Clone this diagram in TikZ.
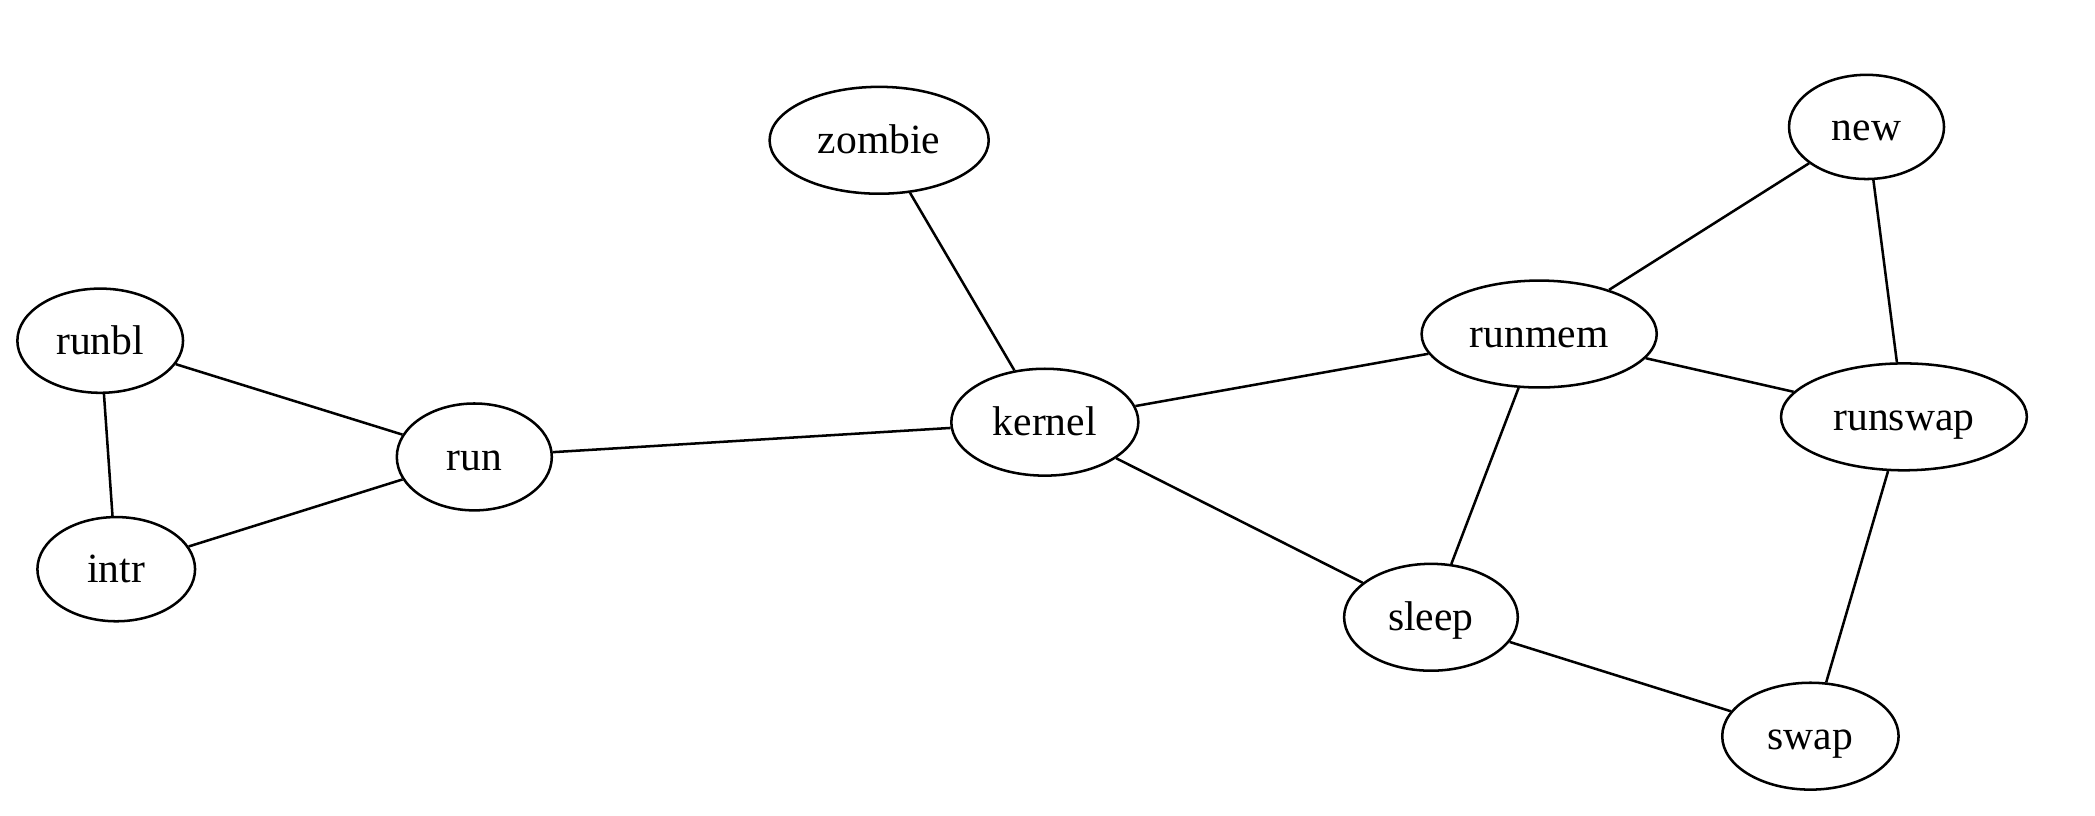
\documentclass[tikz,border=0pt]{standalone}
\usepackage{fontspec}
\setmainfont{Liberation Serif}
\usetikzlibrary{shapes.geometric}
\begin{document}
\begin{tikzpicture}[x=0.45pt,y=-0.45pt,
  st/.style={draw,ellipse,line width=0.85pt,inner sep=0pt,text height=10pt,text depth=1pt,font=\fontsize{14}{16}\selectfont},
  ed/.style={line width=0.85pt}]
\useasboundingbox (0,0) rectangle (1568,610);
\node[st,minimum width=164*0.45pt,minimum height=80*0.45pt] (zombie) at (658,105) {zombie};
\node[st,minimum width=116*0.45pt,minimum height=78*0.45pt] (new) at (1397,95) {new};
\node[st,minimum width=124*0.45pt,minimum height=78*0.45pt] (runbl) at (75,255) {runbl};
\node[st,minimum width=116*0.45pt,minimum height=80*0.45pt] (run) at (355,342) {run};
\node[st,minimum width=118*0.45pt,minimum height=78*0.45pt] (intr) at (87,426) {intr};
\node[st,minimum width=140*0.45pt,minimum height=80*0.45pt] (kernel) at (782,316) {kernel};
\node[st,minimum width=176*0.45pt,minimum height=80*0.45pt] (runmem) at (1152,250) {runmem};
\node[st,minimum width=184*0.45pt,minimum height=80*0.45pt] (runswap) at (1425,312) {runswap};
\node[st,minimum width=130*0.45pt,minimum height=80*0.45pt] (sleep) at (1071,462) {sleep};
\node[st,minimum width=132*0.45pt,minimum height=80*0.45pt] (swap) at (1355,551) {swap};
\draw[ed] (runbl) -- (run);
\draw[ed] (runbl) -- (intr);
\draw[ed] (intr) -- (run);
\draw[ed] (run) -- (kernel);
\draw[ed] (zombie) -- (kernel);
\draw[ed] (kernel) -- (runmem);
\draw[ed] (kernel) -- (sleep);
\draw[ed] (runmem) -- (new);
\draw[ed] (runmem) -- (runswap);
\draw[ed] (runmem) -- (sleep);
\draw[ed] (new) -- (runswap);
\draw[ed] (runswap) -- (swap);
\draw[ed] (sleep) -- (swap);
\end{tikzpicture}
\end{document}
